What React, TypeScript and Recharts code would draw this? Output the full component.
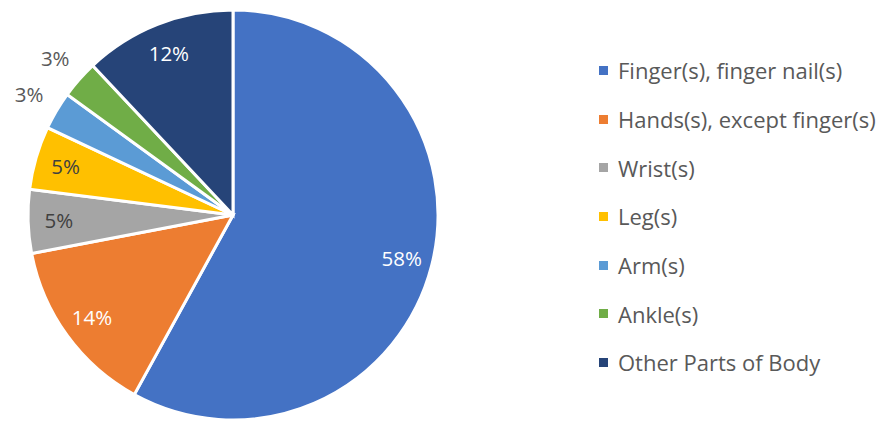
import { PieChart, Pie, Cell, Legend } from 'recharts';

const parts = [
  'Finger(s), finger nail(s)',
  'Hands(s), except finger(s)',
  'Wrist(s)',
  'Leg(s)',
  'Arm(s)',
  'Ankle(s)',
  'Other Parts of Body',
];
const shares = [58, 14, 5, 5, 3, 3, 12];
const colors = ['#4472C4', '#ED7D31', '#A5A5A5', '#FFC000', '#5B9BD5', '#70AD47', '#264478'];
const labelColors = ['#FFFFFF', '#FFFFFF', '#404040', '#404040', '#595959', '#595959', '#FFFFFF'];

const data = parts.map((name, i) => ({ name, value: shares[i] }));

const FONT = "'Open Sans', 'Liberation Sans', sans-serif";
const RADIAN = Math.PI / 180;

const renderLabel = (props: any) => {
  const { cx, cy, midAngle, outerRadius, percent, index } = props;
  const r = percent < 0.04 ? outerRadius + 32 : outerRadius * 0.85;
  const x = cx + r * Math.cos(-midAngle * RADIAN);
  const y = cy + r * Math.sin(-midAngle * RADIAN);
  return (
    <text
      x={x}
      y={y}
      fill={labelColors[index]}
      textAnchor="middle"
      dominantBaseline="central"
      fontSize={20.5}
      fontFamily={FONT}
    >
      {`${shares[index]}%`}
    </text>
  );
};

const renderLegend = () => (
  <div style={{ fontFamily: FONT, fontSize: 22, color: '#595959' }}>
    {data.map((d, i) => (
      <div key={d.name} style={{ display: 'flex', alignItems: 'center', height: 48.7, whiteSpace: 'nowrap' }}>
        <span style={{ width: 9, height: 9, background: colors[i], marginRight: 10, flexShrink: 0 }} />
        <span>{d.name}</span>
      </div>
    ))}
  </div>
);

export default function App() {
  return (
    <div style={{ position: 'absolute', left: 0, top: 0, background: '#fff' }}>
      <PieChart width={890} height={423} margin={{ top: 0, right: 0, bottom: 0, left: 0 }}>
        <Pie
          data={data}
          dataKey="value"
          nameKey="name"
          cx={233}
          cy={215}
          outerRadius={205}
          startAngle={90}
          endAngle={-270}
          stroke="#FFFFFF"
          strokeWidth={3}
          label={renderLabel}
          labelLine={false}
          isAnimationActive={false}
        >
          {data.map((d, i) => (
            <Cell key={d.name} fill={colors[i]} />
          ))}
        </Pie>
        <Legend
          content={renderLegend}
          layout="vertical"
          wrapperStyle={{ position: 'absolute', left: 599, top: 46, width: 291 }}
        />
      </PieChart>
    </div>
  );
}
